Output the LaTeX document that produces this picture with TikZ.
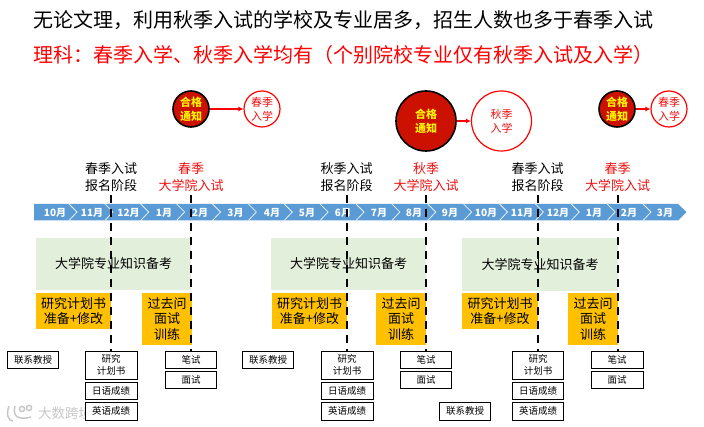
\documentclass[tikz,border=0pt]{standalone}
\usepackage{fontspec}
\setmainfont{Noto Sans CJK SC}
\usetikzlibrary{arrows.meta}
\definecolor{barblue}{HTML}{5B9BD5}
\definecolor{boxgreen}{HTML}{E2EFDA}
\definecolor{boxorange}{HTML}{FFC000}
\definecolor{noticered}{HTML}{CC1100}
\definecolor{hired}{HTML}{EE1111}
\newcommand{\fs}[2]{\fontsize{#1}{#2}\selectfont}
\tikzset{
  x=1pt,y=-1pt,
  titleline/.style={anchor=west,inner sep=0,font=\fs{20}{24}},
  notice/.style={circle,draw=black,line width=1.6,fill=noticered,text=yellow,inner sep=0,align=center,font=\fs{11}{14}\bfseries},
  entry/.style={circle,draw=red,line width=1.2,fill=white,text=hired,inner sep=0,align=center,font=\fs{11}{14}},
  flow/.style={draw=red,line width=1.2,-{Latex[length=5,width=5]}},
  stage/.style={inner sep=0,align=center,font=\fs{13}{16.5}},
  month/.style={inner sep=0,text=white,font=\fs{10}{12}\bfseries},
  chev/.style={draw=white!85!barblue,line width=0.8},
  studybox/.style={fill=boxgreen,inner sep=0,font=\fs{13}{16}},
  orangebox/.style={fill=boxorange,inner sep=0,align=center,font=\fs{13}{15.5}},
  docbox/.style={draw=black,line width=0.8,fill=white,inner sep=0,align=center,font=\fs{9.5}{12}},
  timing/.style={draw=black,line width=1.7,dash pattern=on 8 off 6},
  mark grey/.style={draw=black!22,line width=1.5},
}
\begin{document}
\begin{tikzpicture}
\useasboundingbox (0,0) rectangle (704,427);
\fill[white] (0,0) rectangle (704,427);
% titles
\node[titleline] (t1) at (33,20.5) {无论文理，利用秋季入试的学校及专业居多，招生人数也多于春季入试};
\node[titleline,text=red] (t2) at (33,55) {理科：春季入学、秋季入学均有（个别院校专业仅有秋季入试及入学）};
% month bar
\fill[barblue] (34,204) -- (678,204) -- (686.5,212) -- (678,220.5) -- (34,220.5) -- cycle;
\foreach \i in {0,...,16}{
  \pgfmathsetmacro{\cx}{69+35.875*\i}
  \draw[chev] (\cx,204) -- (\cx+8,212) -- (\cx,220.5);
}
\foreach \nm/\tx/\lb in {m1/55/10月,m2/92/11月,m3/128.5/12月,m4/164/1月,m5/200/2月,m6/235.5/3月,m7/272/4月,m8/307/5月,m9/343/6月,m10/379/7月,m11/414/8月,m12/450/9月,m13/486/10月,m14/522/11月,m15/558/12月,m16/594/1月,m17/629/2月,m18/665/3月}{
  \node[month] (\nm) at (\tx,212.5) {\lb};
}
% green study blocks
\node[studybox,minimum width=155,minimum height=52] (g1) at (113.5,264) {大学院专业知识备考};
\node[studybox,minimum width=155,minimum height=52] (g2) at (348.5,264) {大学院专业知识备考};
\node[studybox,minimum width=156,minimum height=53] (g3) at (540,264.5) {大学院专业知识备考};
% orange blocks
\node[orangebox,minimum width=75,minimum height=36] (o1) at (73.5,311) {研究计划书\\准备+修改};
\node[orangebox,minimum width=50,minimum height=52] (o2) at (167,319) {过去问\\面试\\训练};
\node[orangebox,minimum width=75,minimum height=36] (o3) at (309.5,311) {研究计划书\\准备+修改};
\node[orangebox,minimum width=50,minimum height=52] (o4) at (401,319) {过去问\\面试\\训练};
\node[orangebox,minimum width=76,minimum height=36] (o5) at (500,311) {研究计划书\\准备+修改};
\node[orangebox,minimum width=50,minimum height=52] (o6) at (593,319) {过去问\\面试\\训练};
% stage labels
\node[stage] (s1) at (111,177) {春季入试\\报名阶段};
\node[stage,text=hired] (s2) at (191,177) {春季\\大学院入试};
\node[stage] (s3) at (346.5,177) {秋季入试\\报名阶段};
\node[stage,text=hired] (s4) at (426,177) {秋季\\大学院入试};
\node[stage] (s5) at (537.5,177) {春季入试\\报名阶段};
\node[stage,text=hired] (s6) at (617.5,177) {春季\\大学院入试};
% timing lines
\foreach \n/\px in {1/111,2/191,3/347,4/426,5/538,6/618}{
  \coordinate (a\n) at (\px,195);
  \coordinate (b\n) at (\px,351);
  \draw[timing] (a\n) -- (b\n);
}
% notices
\node[notice,minimum size=36] (n1) at (191,109) {合格\\通知};
\node[entry,minimum size=36] (e1) at (262,109) {春季\\入学};
\draw[flow] (n1) -- (e1);
\node[notice,minimum size=60] (n2) at (426,121) {合格\\通知};
\node[entry,minimum size=60] (e2) at (501.5,121) {秋季\\入学};
\draw[flow] (n2) -- (e2);
\node[notice,minimum size=36] (n3) at (617,109) {合格\\通知};
\node[entry,minimum size=36] (e3) at (669,109) {春季\\入学};
\draw[flow] (n3) -- (e3);
% watermark
\node[inner sep=0,text=black!22,font=\fs{13.5}{15}] (wm) at (65,413.5) {大数跨境};
\draw[mark grey] (9,406) .. controls (6,414) and (8,421) .. (13,421);
\draw[mark grey] (15,406) .. controls (13,414) and (15,421) .. (31,417);
\draw[mark grey] (22,409) circle (2.6);
\draw[mark grey] (29,408) circle (2.6);
% document boxes
\node[docbox,minimum width=51,minimum height=17] (d1) at (33,359.5) {联系教授};
\node[docbox,minimum width=52,minimum height=28] (d2) at (111,365) {研究\\计划书};
\node[docbox,minimum width=52,minimum height=17] (d3) at (111,390.5) {日语成绩};
\node[docbox,minimum width=52,minimum height=18] (d4) at (111,411) {英语成绩};
\node[docbox,minimum width=51,minimum height=17] (d5) at (191,359.5) {笔试};
\node[docbox,minimum width=51,minimum height=17] (d6) at (191,380) {面试};
\node[docbox,minimum width=51,minimum height=17] (d7) at (268,359.5) {联系教授};
\node[docbox,minimum width=52,minimum height=28] (d8) at (347,365) {研究\\计划书};
\node[docbox,minimum width=52,minimum height=17] (d9) at (347,390.5) {日语成绩};
\node[docbox,minimum width=52,minimum height=18] (d10) at (347,411) {英语成绩};
\node[docbox,minimum width=51,minimum height=17] (d11) at (426,359.5) {笔试};
\node[docbox,minimum width=51,minimum height=17] (d12) at (426,380) {面试};
\node[docbox,minimum width=51,minimum height=18] (d13) at (465,411) {联系教授};
\node[docbox,minimum width=51,minimum height=28] (d14) at (538,365) {研究\\计划书};
\node[docbox,minimum width=51,minimum height=17] (d15) at (538,390.5) {日语成绩};
\node[docbox,minimum width=51,minimum height=18] (d16) at (538,411) {英语成绩};
\node[docbox,minimum width=52,minimum height=17] (d17) at (617,359.5) {笔试};
\node[docbox,minimum width=52,minimum height=17] (d18) at (617,380) {面试};
\end{tikzpicture}
\end{document}
